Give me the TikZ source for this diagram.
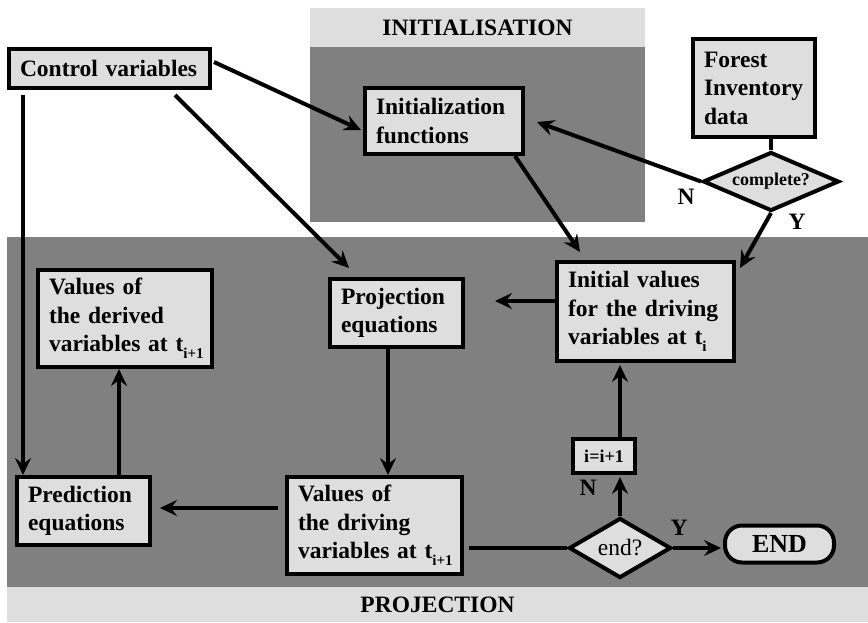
\documentclass[tikz,border=0pt]{standalone}
\usepackage{fontspec}
\setmainfont{Liberation Serif}
\usetikzlibrary{arrows.meta,shapes.geometric,calc}
\definecolor{lightg}{HTML}{DEDEDE}
\definecolor{darkg}{HTML}{808080}
\newcommand{\sbs}[1]{\raisebox{-7pt}{\fontsize{15}{15}\selectfont #1}}
\begin{document}
\begin{tikzpicture}[x=1pt,y=-1pt,
  box/.style={draw=black, line width=4pt, fill=lightg, align=left, inner xsep=11pt, inner ysep=0pt,
    font=\bfseries\fontsize{23.5}{28.5}\selectfont},
  dia/.style={diamond, draw=black, line width=4pt, fill=lightg, inner sep=0pt},
  arr/.style={line width=4pt, -{Stealth[length=17pt,width=16pt,inset=6pt]}},
  lnk/.style={line width=4pt},
  lbl/.style={font=\bfseries\fontsize{23.5}{28}\selectfont, inner sep=0pt},
  hdr/.style={font=\bfseries\fontsize{23.5}{28}\selectfont, inner sep=0pt}]
\useasboundingbox (0,0) rectangle (868,622);
\fill[white] (0,0) rectangle (868,622);
% regions
\fill[lightg] (310,8) rectangle (645,47);
\fill[darkg] (310,47) rectangle (645,222);
\fill[darkg] (7,237) rectangle (868,587);
\fill[lightg] (7,587) rectangle (868,622);
\node[hdr] (hinit) at (477.5,27.5) {INITIALISATION};
\node[hdr] (hproj) at (437.5,605) {PROJECTION};
% boxes
\node[box, text width=179pt, minimum height=39pt] (ctrl) at (109.5,68.5) {\mbox{Control variables}};
\node[box, text width=136pt, minimum height=66pt] (initf) at (444,121) {Initialization\\functions};
\node[box, text width=100pt, minimum height=98pt] (forest) at (754,88) {Forest\\Inventory\\data};
\node[dia, shape aspect=2.2, minimum width=136pt, minimum height=59pt, font=\bfseries\fontsize{18}{20}\selectfont] (complete) at (771,181.5) {complete?};
\node[box, text width=155pt, minimum height=99pt] (initv) at (645.5,311.5) {Initial values\\\mbox{for the driving}\\\mbox{variables at t\sbs{i}}};
\node[box, text width=111pt, minimum height=68pt] (proj) at (396.5,313) {Projection\\equations};
\node[box, text width=152pt, minimum height=97pt] (derived) at (125,318.5) {Values of\\\mbox{the derived}\\\mbox{variables at t\sbs{i+1}}};
\node[box, text width=111pt, minimum height=68pt] (pred) at (83.5,511) {Prediction\\equations};
\node[box, text width=153pt, minimum height=97pt] (driving) at (374.5,525.5) {Values of\\\mbox{the driving}\\\mbox{variables at t\sbs{i+1}}};
\node[box, align=center, inner xsep=0pt, minimum width=62pt, minimum height=34pt, font=\bfseries\fontsize{18}{20}\selectfont] (inc) at (604,456) {i=i+1};
\node[box, align=center, rounded corners=17pt, minimum width=109pt, minimum height=37pt, font=\bfseries\fontsize{26}{28}\selectfont] (endn) at (779.5,544) {END};
\node[dia, shape aspect=1.7, minimum width=102pt, minimum height=60pt, font=\fontsize{23.5}{25}\selectfont] (endq) at (620,548) {end?};
% labels
\node[lbl] (n1) at (686,197) {N};
\node[lbl] (y1) at (797,221.5) {Y};
\node[lbl] (n2) at (588,488) {N};
\node[lbl] (y2) at (679,528) {Y};
% helper coordinates
\coordinate (cvA) at ($(ctrl.south)+(-86.5,5)$);
\coordinate (prB) at ($(proj.south)+(-8.5,0)$);
\coordinate (pdC) at ($(pred.north)+(35.5,0)$);
% connectors
\draw[arr] ($(ctrl.east)+(2,-6.5)$) -- ($(initf.west)+(-2,9)$);
\draw[arr] ($(ctrl.south)+(65.5,5)$) -- ($(proj.north)+(-47.5,-9)$);
\draw[arr] (cvA) -- (cvA |- pred.north);
\draw[arr] ($(initf.south)+(71,0)$) -- ($(initv.north)+(-65.5,-8)$);
\draw[lnk] (complete.north) -- (complete.north |- forest.south);
\draw[arr] (complete.west) -- ($(initf.east)+(12,1)$);
\draw[arr] (complete.south) -- ($(initv.north east)+(4,8)$);
\draw[arr] ($(initv.west)+(0,-10.5)$) -- ++(-60,0);
\draw[arr] (prB) -- (prB |- driving.north);
\draw[arr] ($(driving.west)+(-7,-17.5)$) -- ($(pred.east)+(8,-3)$);
\draw[arr] (pdC) -- (pdC |- derived.south);
\draw[lnk] ($(driving.east)+(5,22.5)$) -- (endq.west);
\draw[arr] (endq.east) -- ($(endn.west)+(-2,4)$);
\draw[arr] (endq.north) -- ($(endq.north |- inc.south)+(0,2)$);
\draw[arr] (endq.north |- inc.north) -- ($(endq.north |- initv.south)+(0,2)$);
\end{tikzpicture}
\end{document}
